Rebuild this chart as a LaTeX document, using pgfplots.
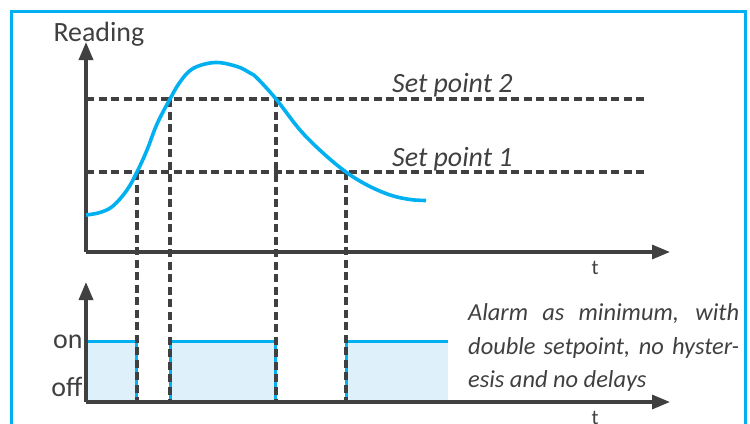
\documentclass[border=0pt]{standalone}
\usepackage{fontspec}
\setmainfont{Carlito}
\usepackage{pgfplots}
\pgfplotsset{compat=1.18}
\usetikzlibrary{arrows.meta}
\definecolor{sky}{HTML}{00B0F0}
\definecolor{skyfill}{HTML}{DEF1FB}
\definecolor{ink}{HTML}{404040}

\pgfplotsset{
  sig/.style={
    scale only axis, width=584bp, xmin=0, xmax=584, ymin=0,
    axis lines=left,
    axis line style={ink, line width=3.3bp, -{Triangle[length=18bp,width=14bp]}},
    xtick=\empty,
    tick style={draw=none}, major tick length=0pt,
    clip=false,
    xlabel={t},
    every axis x label/.style={at={(rel axis cs:0.8716,0)}, anchor=north,
      inner sep=0pt, yshift=-9bp, font=\fontsize{21}{24}\selectfont, text=ink},
    tick label style={font=\fontsize{28}{34}\selectfont, text=ink},
  },
  guide/.style={draw=ink, line width=3.4bp, dash pattern=on 8bp off 4.5bp},
  sig line/.style={draw=sky, line width=3bp},
}

\begin{document}
\begin{tikzpicture}[x=1bp, y=1bp]
\useasboundingbox (0,0) rectangle (750,423);
\clip (0,0) rectangle (750,423);

% alarm output (drawn first so the dashed guides of the top axis lie over it)
\begin{axis}[sig, at={(86,21)}, anchor=south west,
  height=120bp, ymax=120, axis on top,
  ytick={15,60}, yticklabels={off,on}]
\addplot[fill=skyfill, draw=none] coordinates {(0,0)(0,61)(50,61)(50,0)};
\addplot[sig line] coordinates {(0,0)(0,61)(50,61)(50,0)};
\addplot[fill=skyfill, draw=none] coordinates {(84.5,0)(84.5,61)(189.5,61)(189.5,0)};
\addplot[sig line] coordinates {(84.5,0)(84.5,61)(189.5,61)(189.5,0)};
\addplot[fill=skyfill, draw=none] coordinates {(260.5,0)(260.5,61)(362,61)(362,0)};
\addplot[sig line] coordinates {(260.5,0)(260.5,61)(362,61)};
\node[anchor=north west, inner sep=0pt, text width=271bp, align=justify,
  font=\itshape\fontsize{24.5}{34}\selectfont, text=ink]
  at (axis cs:382,99) {Alarm as minimum, with\linebreak double setpoint, no hyster-\linebreak esis and no delays};
\end{axis}

% reading
\begin{axis}[sig, at={(86,171)}, anchor=south west,
  height=210bp, ymax=210, ytick=\empty,
  ylabel={Reading},
  every axis y label/.style={at={(rel axis cs:0,1)}, anchor=base west,
    xshift=-36bp, yshift=1bp, font=\fontsize{28}{34}\selectfont, text=ink}]
\addplot[guide] coordinates {(0,153)(561,153)};
\addplot[guide] coordinates {(0,80)(561,80)};
\addplot[guide] coordinates {(51,80)(51,-150)};
\addplot[guide] coordinates {(84,153)(84,-150)};
\addplot[guide] coordinates {(190,153)(190,-150)};
\addplot[guide] coordinates {(260,80)(260,-150)};
\addplot[draw=sky, line width=3.6bp, smooth, tension=0.6] coordinates {
  (0,37)(14,39.5)(27,46)(41,62)(51,80)(61,102)(71,128)(84,153)(94,170)
  (107,183.5)(129,189.5)(151,185.5)(164,179)(171,174)(190,153)(214,122)
  (237,99)(260,80)(281,67)(304,57)(324,52.5)(340,51.5)};
\node[anchor=base west, inner sep=0pt, font=\itshape\fontsize{28}{34}\selectfont, text=ink]
  at (axis cs:306,159.5) {Set point 2};
\node[anchor=base west, inner sep=0pt, font=\itshape\fontsize{28}{34}\selectfont, text=ink]
  at (axis cs:306,85.5) {Set point 1};
\end{axis}

% frame
\draw[sky, line width=3.5bp] (11.7,-20) -- (11.7,411.3) -- (745.5,411.3) -- (745.5,-20);
\end{tikzpicture}
\end{document}
